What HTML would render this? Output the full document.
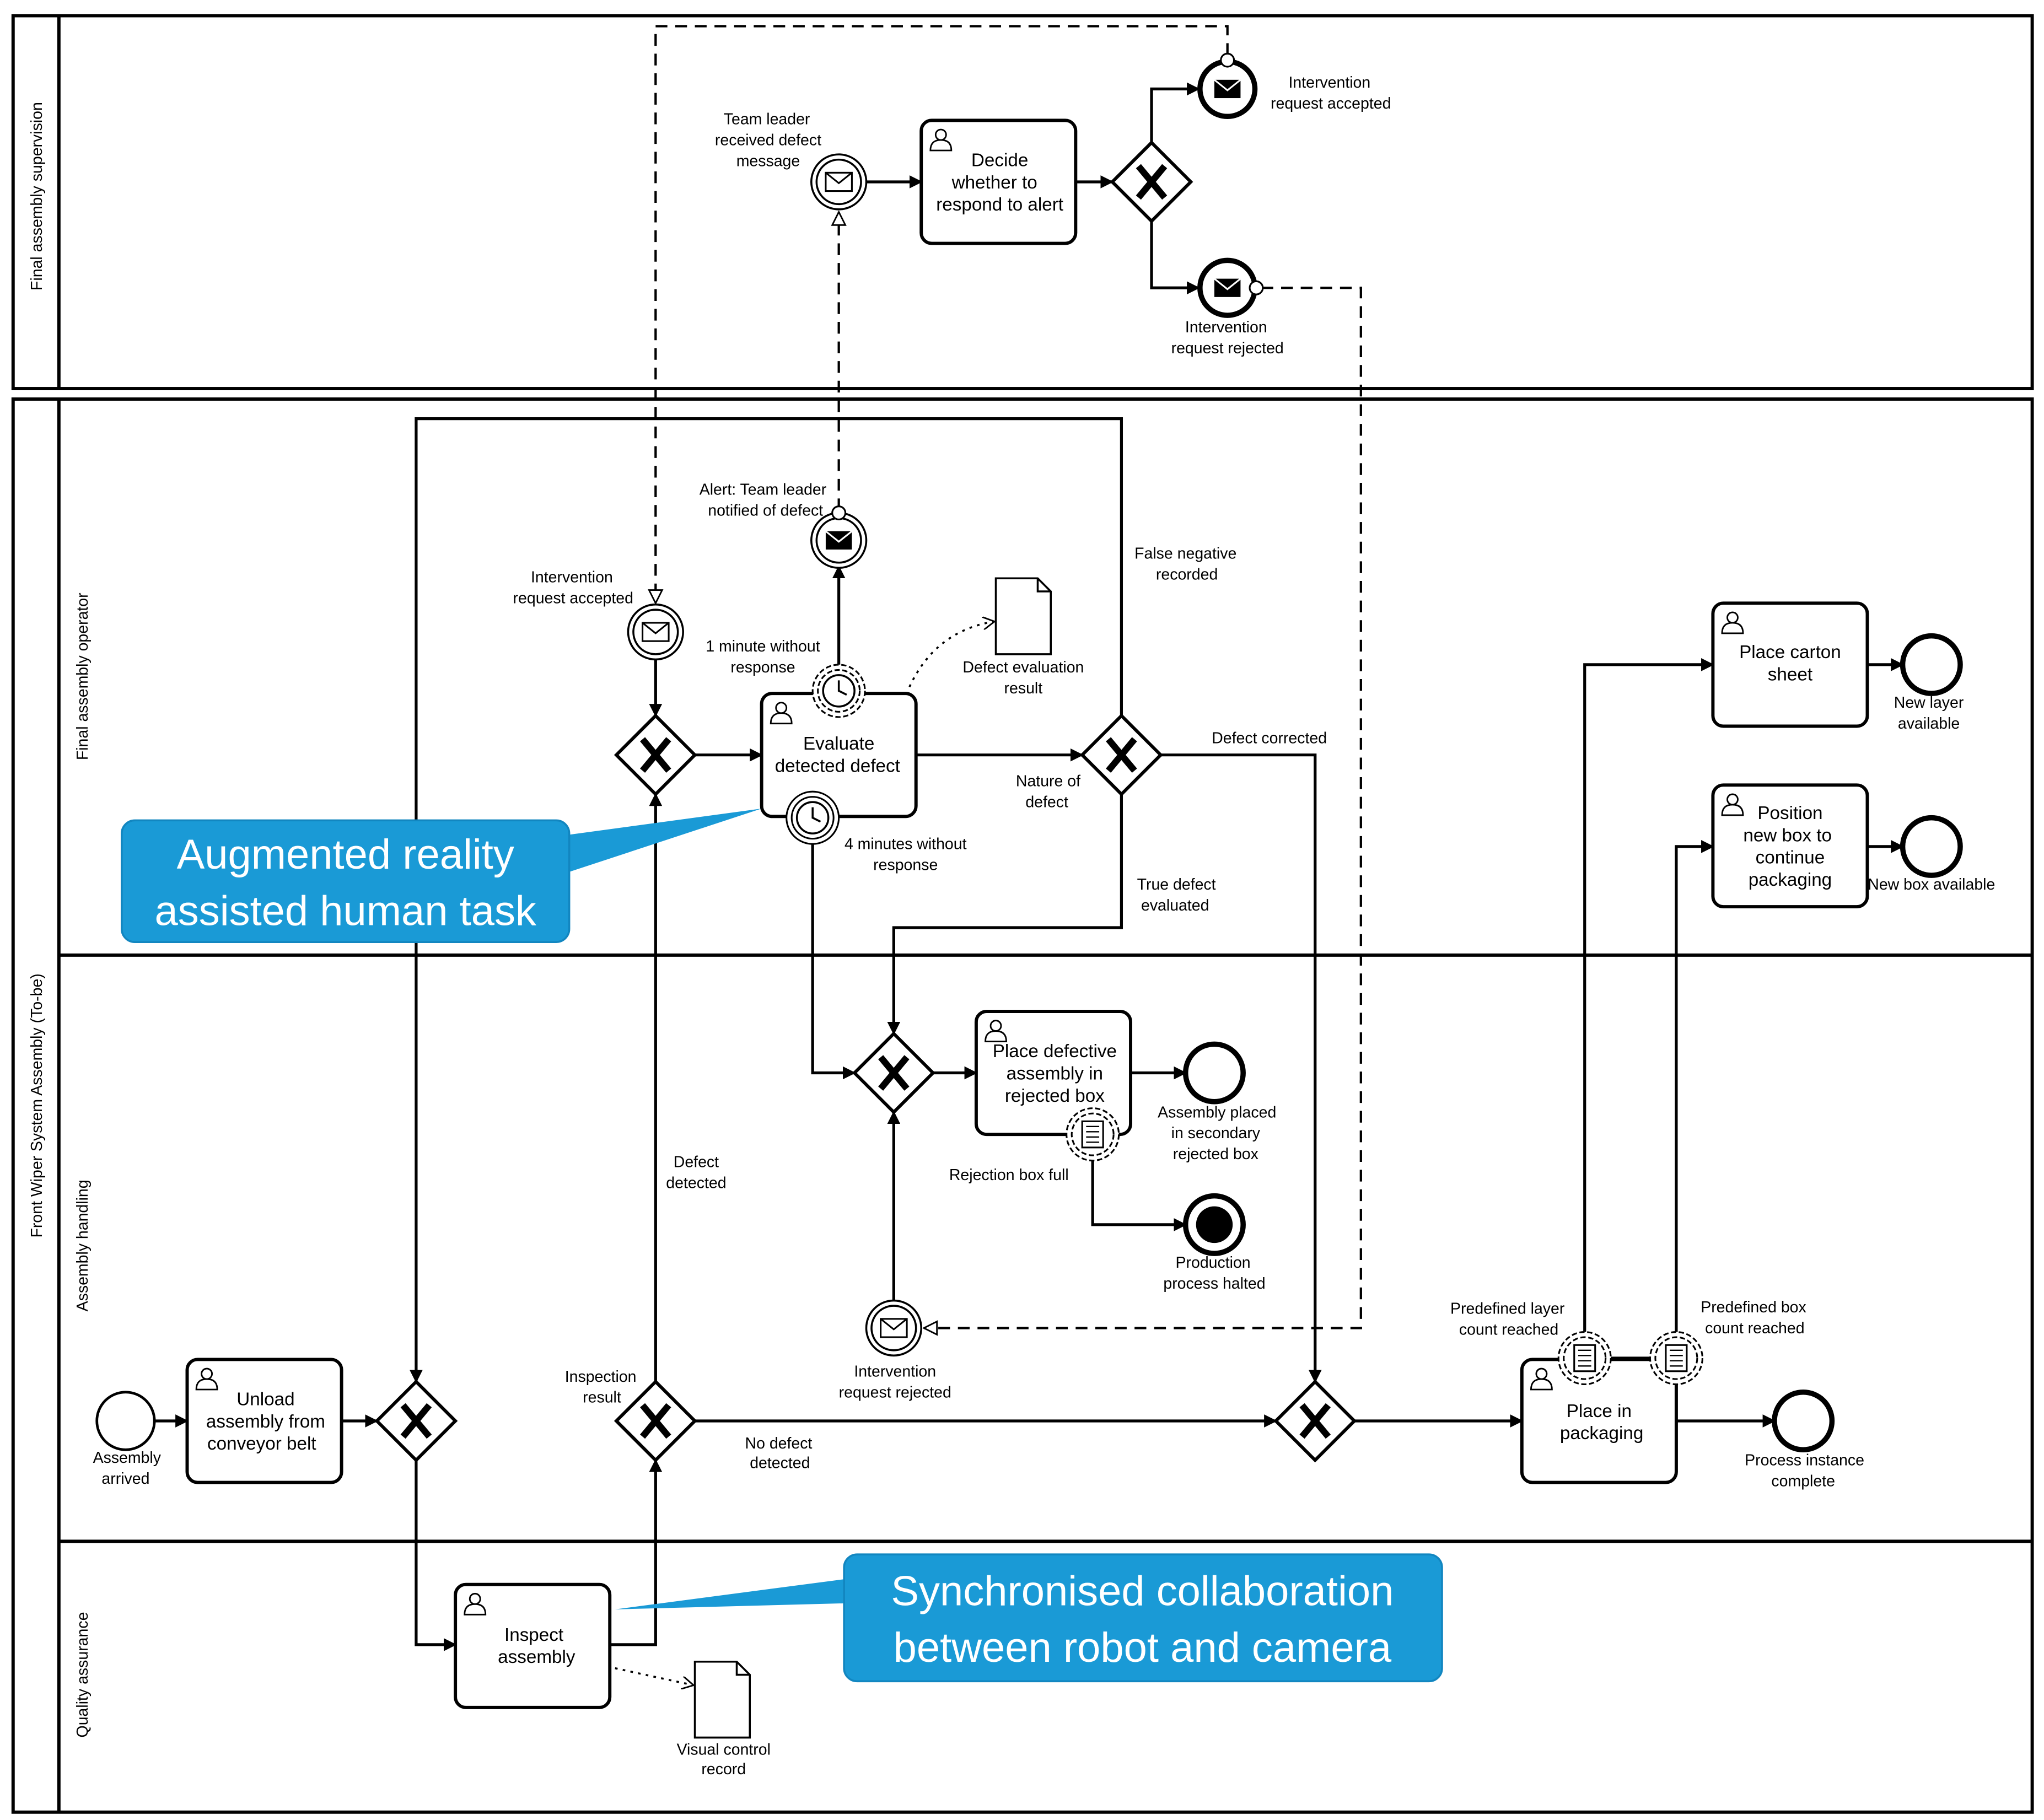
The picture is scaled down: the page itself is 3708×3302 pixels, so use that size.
<!DOCTYPE html>
<html><head><meta charset="utf-8"><style>
html,body{margin:0;padding:0;background:#fff}
svg{display:block}
text{font-family:"Liberation Sans",sans-serif;fill:#000}
.l{font-size:12px}
.t{font-size:14px}
</style></head><body>
<svg width="3708" height="3302" viewBox="0 0 1562 1391" xmlns="http://www.w3.org/2000/svg">
<defs>
<marker id="a" markerWidth="10" markerHeight="10" refX="9" refY="5" orient="auto" markerUnits="userSpaceOnUse"><path d="M0,0 L10,5 L0,10 z" fill="#000"/></marker>
<marker id="o" markerWidth="12" markerHeight="12" refX="11" refY="6" orient="auto" markerUnits="userSpaceOnUse"><path d="M1,1 L11,6 L1,11 z" fill="#fff" stroke="#000" stroke-width="1.2"/></marker>
<marker id="v" markerWidth="10" markerHeight="10" refX="9" refY="5" orient="auto" markerUnits="userSpaceOnUse"><path d="M0,0 L9,5 L0,10" fill="none" stroke="#000" stroke-width="1.2"/></marker>
<g id="gw"><path d="M0,-30 L30,0 L0,30 L-30,0 z" fill="#fff" stroke="#000" stroke-width="2.5"/><path d="M-10,-12 L10,12 M10,-12 L-10,12" stroke="#000" stroke-width="5"/></g>
<g id="user"><circle cx="0" cy="-4" r="4" fill="#fff" stroke="#000" stroke-width="1.2"/><path d="M-8,8 Q-8,0 0,0 Q8,0 8,8 z" fill="#fff" stroke="#000" stroke-width="1.2"/></g>
<g id="env"><rect x="-10" y="-7" width="20" height="14" fill="#fff" stroke="#000" stroke-width="1.3"/><path d="M-10,-7 L0,1 L10,-7" fill="none" stroke="#000" stroke-width="1.3"/></g>
<g id="envb"><rect x="-10" y="-7" width="20" height="14" fill="#000"/><path d="M-10,-7 L0,1 L10,-7" fill="none" stroke="#fff" stroke-width="1.3"/></g>
<g id="doc"><path d="M0,0 L32,0 L42,10 L42,58 L0,58 z M32,0 L32,10 L42,10" fill="#fff" stroke="#000" stroke-width="1.5"/></g>
<g id="cond"><circle r="20" fill="#fff" stroke="#000" stroke-width="1.3" stroke-dasharray="4,2"/><circle r="16" fill="#fff" stroke="#000" stroke-width="1.3" stroke-dasharray="4,2"/><rect x="-8" y="-10" width="16" height="20" fill="#fff" stroke="#000" stroke-width="1.3"/><path d="M-5,-6h10M-5,-2h10M-5,2h10M-5,6h10" stroke="#000" stroke-width="1"/></g>
<g id="timer"><circle r="20" fill="#fff" stroke="#000" stroke-width="1.3"/><circle r="16" fill="#fff" stroke="#000" stroke-width="1.3"/><circle r="12" fill="#fff" stroke="#000" stroke-width="1.5"/><path d="M0,-8 L0,0 L6,3" fill="none" stroke="#000" stroke-width="1.5"/></g>
<g id="timerd"><circle r="20" fill="#fff" stroke="#000" stroke-width="1.3" stroke-dasharray="4,2"/><circle r="16" fill="#fff" stroke="#000" stroke-width="1.3" stroke-dasharray="4,2"/><circle r="12" fill="#fff" stroke="#000" stroke-width="1.5"/><path d="M0,-8 L0,0 L6,3" fill="none" stroke="#000" stroke-width="1.5"/></g>
</defs>

<!-- pools -->
<g fill="none" stroke="#000" stroke-width="2.5">
<rect x="10" y="12" width="1543" height="285"/><line x1="45" y1="12" x2="45" y2="297"/>
<rect x="10" y="305" width="1543" height="1080"/><line x1="45" y1="305" x2="45" y2="1385"/>
<line x1="45" y1="730" x2="1553" y2="730"/><line x1="45" y1="1178" x2="1553" y2="1178"/>
</g>
<text class="l" transform="translate(32,150) rotate(-90)" text-anchor="middle">Final assembly supervision</text>
<text class="l" transform="translate(32,845) rotate(-90)" text-anchor="middle">Front Wiper System Assembly (To-be)</text>
<text class="l" transform="translate(67,517) rotate(-90)" text-anchor="middle">Final assembly operator</text>
<text class="l" transform="translate(67,952) rotate(-90)" text-anchor="middle">Assembly handling</text>
<text class="l" transform="translate(67,1280) rotate(-90)" text-anchor="middle">Quality assurance</text>

<!-- sequence flows -->
<g fill="none" stroke="#000" stroke-width="2.2">
<path d="M118,1086 H143" marker-end="url(#a)"/>
<path d="M261,1086 H288" marker-end="url(#a)"/>
<path d="M857,547 V320 H318 V1056" marker-end="url(#a)"/>
<path d="M318,1116 V1257 H348" marker-end="url(#a)"/>
<path d="M466,1257 H501 V1116" marker-end="url(#a)"/>
<path d="M501,1056 V607" marker-end="url(#a)"/>
<path d="M531,1086 H975" marker-end="url(#a)"/>
<path d="M501,503 V547" marker-end="url(#a)"/>
<path d="M531,577 H582" marker-end="url(#a)"/>
<path d="M700,577 H827" marker-end="url(#a)"/>
<path d="M641,508 V433" marker-end="url(#a)"/>
<path d="M621,645 V820 H653" marker-end="url(#a)"/>
<path d="M857,607 V709 H683 V790" marker-end="url(#a)"/>
<path d="M887,577 H1005 V1056" marker-end="url(#a)"/>
<path d="M713,820 H746" marker-end="url(#a)"/>
<path d="M864,820 H906" marker-end="url(#a)"/>
<path d="M835,887 V936 H906" marker-end="url(#a)"/>
<path d="M683,995 V850" marker-end="url(#a)"/>
<path d="M1035,1086 H1163" marker-end="url(#a)"/>
<path d="M1281,1086 H1356" marker-end="url(#a)"/>
<path d="M1211,1018 V508 H1309" marker-end="url(#a)"/>
<path d="M1281,1018 V647 H1309" marker-end="url(#a)"/>
<path d="M1427,508 H1454" marker-end="url(#a)"/>
<path d="M1427,647 H1454" marker-end="url(#a)"/>
<path d="M661,139 H704" marker-end="url(#a)"/>
<path d="M822,139 H850" marker-end="url(#a)"/>
<path d="M880,109 V68 H916" marker-end="url(#a)"/>
<path d="M880,169 V220 H916" marker-end="url(#a)"/>
<path d="M1211,1038 H1281"/>
</g>
<!-- message flows -->
<g fill="none" stroke="#000" stroke-width="1.8" stroke-dasharray="9,6">
<path d="M938,42 V20 H501 V461" marker-end="url(#o)"/>
<path d="M641,390 V162" marker-end="url(#o)"/>
<path d="M964,220 H1040 V1015 H706" marker-end="url(#o)"/>
</g>
<circle cx="938" cy="46" r="5" fill="#fff" stroke="#000" stroke-width="1.3"/>
<circle cx="641" cy="392" r="5" fill="#fff" stroke="#000" stroke-width="1.3"/>
<circle cx="960" cy="220" r="5" fill="#fff" stroke="#000" stroke-width="1.3"/>
<!-- associations -->
<g fill="none" stroke="#000" stroke-width="1.5" stroke-dasharray="2,4">
<path d="M695,525 Q715,482 760,475" marker-end="url(#v)"/>
<path d="M470,1275 L530,1288" marker-end="url(#v)"/>
</g>

<!-- tasks -->
<g fill="#fff" stroke="#000" stroke-width="2.5">
<rect x="143" y="1039" width="118" height="94" rx="8"/>
<rect x="348" y="1211" width="118" height="94" rx="8"/>
<rect x="582" y="530" width="118" height="94" rx="8"/>
<rect x="746" y="773" width="118" height="94" rx="8"/>
<rect x="1163" y="1039" width="118" height="94" rx="8"/>
<rect x="1309" y="461" width="118" height="94" rx="8"/>
<rect x="1309" y="600" width="118" height="93" rx="8"/>
<rect x="704" y="92" width="118" height="94" rx="8"/>
</g>
<use href="#user" x="158" y="1054"/><use href="#user" x="363" y="1226"/><use href="#user" x="597" y="545"/>
<use href="#user" x="761" y="788"/><use href="#user" x="1178" y="1054"/><use href="#user" x="1324" y="476"/>
<use href="#user" x="1324" y="615"/><use href="#user" x="719" y="107"/>
<g class="t" text-anchor="middle">
<text x="203" y="1074">Unload</text><text x="203" y="1091">assembly from</text><text x="200" y="1108">conveyor belt</text>
<text x="408" y="1254">Inspect</text><text x="410" y="1271">assembly</text>
<text x="641" y="573">Evaluate</text><text x="640" y="590">detected defect</text>
<text x="806" y="808">Place defective</text><text x="806" y="825">assembly in</text><text x="806" y="842">rejected box</text>
<text x="1222" y="1083">Place in</text><text x="1224" y="1100">packaging</text>
<text x="1368" y="503">Place carton</text><text x="1368" y="520">sheet</text>
<text x="1368" y="626">Position</text><text x="1366" y="643">new box to</text><text x="1368" y="660">continue</text><text x="1368" y="677">packaging</text>
<text x="764" y="127">Decide</text><text x="760" y="144">whether to</text><text x="764" y="161">respond to alert</text>
</g>

<!-- gateways -->
<use href="#gw" x="318" y="1086"/><use href="#gw" x="501" y="1086"/><use href="#gw" x="501" y="577"/>
<use href="#gw" x="857" y="577"/><use href="#gw" x="683" y="820"/><use href="#gw" x="1005" y="1086"/>
<use href="#gw" x="880" y="139"/>

<!-- events -->
<circle cx="96" cy="1086" r="22" fill="#fff" stroke="#000" stroke-width="2"/>
<circle cx="1378" cy="1086" r="22" fill="#fff" stroke="#000" stroke-width="4"/>
<circle cx="1476" cy="508" r="22" fill="#fff" stroke="#000" stroke-width="4"/>
<circle cx="1476" cy="647" r="22" fill="#fff" stroke="#000" stroke-width="4"/>
<circle cx="928" cy="820" r="22" fill="#fff" stroke="#000" stroke-width="4"/>
<circle cx="928" cy="936" r="22" fill="#fff" stroke="#000" stroke-width="4"/><circle cx="928" cy="936" r="14" fill="#000"/>
<g fill="#fff" stroke="#000" stroke-width="1.5">
<circle cx="501" cy="483" r="21"/><circle cx="501" cy="483" r="17"/>
<circle cx="683" cy="1015" r="21"/><circle cx="683" cy="1015" r="17"/>
<circle cx="641" cy="139" r="21"/><circle cx="641" cy="139" r="17"/>
<circle cx="641" cy="413" r="21"/><circle cx="641" cy="413" r="17"/>
</g>
<use href="#env" x="501" y="483"/><use href="#env" x="683" y="1015"/><use href="#env" x="641" y="139"/>
<use href="#envb" x="641" y="413"/>
<circle cx="938" cy="68" r="21" fill="#fff" stroke="#000" stroke-width="4"/><use href="#envb" x="938" y="68"/>
<circle cx="938" cy="220" r="21" fill="#fff" stroke="#000" stroke-width="4"/><use href="#envb" x="938" y="220"/>
<circle cx="938" cy="46" r="5" fill="#fff" stroke="#000" stroke-width="1.3"/>
<circle cx="960" cy="220" r="5" fill="#fff" stroke="#000" stroke-width="1.3"/>
<circle cx="641" cy="392" r="5" fill="#fff" stroke="#000" stroke-width="1.3"/>
<use href="#timerd" x="641" y="528"/><use href="#timer" x="621" y="625"/>
<use href="#cond" x="835" y="867"/><use href="#cond" x="1211" y="1038"/><use href="#cond" x="1281" y="1038"/>
<use href="#doc" x="761" y="442"/><use href="#doc" x="531" y="1270"/>

<!-- labels -->
<g class="l" text-anchor="middle">
<text x="97" y="1118">Assembly</text><text x="96" y="1134">arrived</text>
<text x="459" y="1056">Inspection</text><text x="460" y="1072">result</text>
<text x="532" y="892">Defect</text><text x="532" y="908">detected</text>
<text x="595" y="1107">No defect</text><text x="596" y="1122">detected</text>
<text x="553" y="1341">Visual control</text><text x="553" y="1356">record</text>
<text x="437" y="445">Intervention</text><text x="438" y="461">request accepted</text>
<text x="583" y="378">Alert: Team leader</text><text x="585" y="394">notified of defect</text>
<text x="583" y="498">1 minute without</text><text x="583" y="514">response</text>
<text x="782" y="514">Defect evaluation</text><text x="782" y="530">result</text>
<text x="906" y="427">False negative</text><text x="907" y="443">recorded</text>
<text x="970" y="568">Defect corrected</text>
<text x="801" y="601">Nature of</text><text x="800" y="617">defect</text>
<text x="692" y="649">4 minutes without</text><text x="692" y="665">response</text>
<text x="899" y="680">True defect</text><text x="898" y="696">evaluated</text>
<text x="930" y="854">Assembly placed</text><text x="929" y="870">in secondary</text><text x="929" y="886">rejected box</text>
<text x="771" y="902">Rejection box full</text>
<text x="927" y="969">Production</text><text x="928" y="985">process halted</text>
<text x="684" y="1052">Intervention</text><text x="684" y="1068">request rejected</text>
<text x="1152" y="1004">Predefined layer</text><text x="1153" y="1020">count reached</text>
<text x="1340" y="1003">Predefined box</text><text x="1341" y="1019">count reached</text>
<text x="1379" y="1120">Process instance</text><text x="1378" y="1136">complete</text>
<text x="1474" y="541">New layer</text><text x="1474" y="557">available</text>
<text x="1476" y="680">New box available</text>
<text x="586" y="95">Team leader</text><text x="587" y="111">received defect</text><text x="587" y="127">message</text>
<text x="1016" y="67">Intervention</text><text x="1017" y="83">request accepted</text>
<text x="937" y="254">Intervention</text><text x="938" y="270">request rejected</text>
</g>

<!-- callouts -->
<path d="M420,640 L582,618 L430,668 z" fill="#1a9ad6"/>
<rect x="93" y="627" width="342" height="93" rx="10" fill="#1a9ad6" stroke="#1286c0" stroke-width="1.5"/>
<text x="264" y="664" text-anchor="middle" style="font-size:32px;fill:#fff">Augmented reality</text>
<text x="264" y="707" text-anchor="middle" style="font-size:32px;fill:#fff">assisted human task</text>
<path d="M660,1205 L470,1230 L660,1225 z" fill="#1a9ad6"/>
<rect x="645" y="1188" width="457" height="97" rx="10" fill="#1a9ad6" stroke="#1286c0" stroke-width="1.5"/>
<text x="873" y="1227" text-anchor="middle" style="font-size:32px;fill:#fff">Synchronised collaboration</text>
<text x="873" y="1270" text-anchor="middle" style="font-size:32px;fill:#fff">between robot and camera</text>
</svg>
</body></html>
